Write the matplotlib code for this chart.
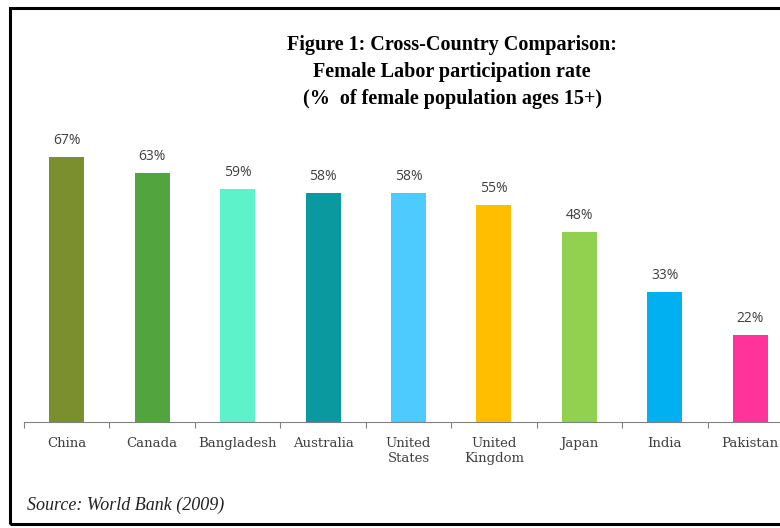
import matplotlib
matplotlib.use("Agg")
import matplotlib.pyplot as plt
from matplotlib.patches import Rectangle

countries = ["China", "Canada", "Bangladesh", "Australia", "United\nStates",
             "United\nKingdom", "Japan", "India", "Pakistan"]
rates = [67, 63, 59, 58, 58, 55, 48, 33, 22]
colors = ["#7B8F2F", "#52A43E", "#5EF2CB", "#0A999E", "#4DCBFF",
          "#FFBF00", "#92D050", "#00B0F0", "#FF3399"]

fig = plt.figure(figsize=(7.8, 5.28), dpi=100)

# frame around the chart (right edge is cut off in the original)
fig.patches.append(Rectangle((10 / 780, 4 / 528), 1.2, 516 / 528,
                             transform=fig.transFigure, fill=False,
                             edgecolor="black", linewidth=2.2))

ax = fig.add_axes([24 / 780, 106 / 528, 769 / 780, 316 / 528])
x = range(len(countries))
bars = ax.bar(x, rates, width=0.41, color=colors)
ax.set_xlim(-0.5, len(countries) - 0.5)
ax.set_ylim(0, 80)

for b, v in zip(bars, rates):
    ax.text(b.get_x() + b.get_width() / 2, v + 2.3, f"{v}%", ha="center",
            va="bottom", fontsize=10, color="#404040", family="Open Sans")

for s in ["top", "right", "left"]:
    ax.spines[s].set_visible(False)
ax.spines["bottom"].set_color("#808080")
ax.set_yticks([])
ax.set_xticks([i - 0.5 for i in range(len(countries) + 1)], minor=False)
ax.set_xticklabels([])
ax.tick_params(axis="x", length=4, color="#808080", direction="out")
ax.set_xticks(list(x), minor=True)
ax.set_xticklabels(countries, minor=True, family="DejaVu Serif", fontsize=9.5,
                   color="#404040", linespacing=1.15)
ax.tick_params(axis="x", which="minor", length=0, pad=11)
for lab in ax.get_xticklabels(minor=True):
    lab.set_va("top")

fig.text(452 / 780, 1 - 72 / 528,
         "Figure 1: Cross-Country Comparison:\nFemale Labor participation rate\n(%  of female population ages 15+)",
         ha="center", va="center", family="Liberation Serif", weight="bold",
         fontsize=14.5, linespacing=1.45)

fig.text(27 / 780, 1 - 505 / 528, "Source: World Bank (2009)", ha="left",
         va="center", family="Liberation Serif", style="italic", fontsize=13,
         color="#222222")

fig.savefig("out.png", dpi=100)
